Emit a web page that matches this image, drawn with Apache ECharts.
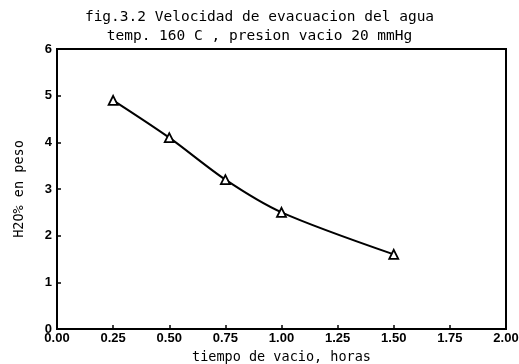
<!DOCTYPE html>
<html>
<head>
<meta charset="utf-8">
<script src="https://cdn.jsdelivr.net/npm/echarts@6/dist/echarts.min.js"></script>
<style>
  html, body { margin: 0; padding: 0; background: #fff; }
  #chart { width: 519px; height: 364px; }
</style>
</head>
<body>
<div id="chart"></div>
<script>
// Water evacuation rate under vacuum at 160 C
const titleLines = ['fig.3.2 Velocidad de evacuacion del agua', 'temp. 160 C , presion vacio 20 mmHg'];
const xName = 'tiempo de vacio, horas';
const yName = 'H2O% en peso';
const hours = [0.25, 0.50, 0.75, 1.00, 1.50];
const waterPct = [4.9, 4.1, 3.2, 2.5, 1.6];
const xTicks = { min: 0, max: 2, interval: 0.25 };
const yTicks = { min: 0, max: 6, interval: 1 };

const mono = '"DejaVu Sans Mono", monospace';
const chart = echarts.init(document.getElementById('chart'), null, { renderer: 'canvas' });

chart.setOption({
  backgroundColor: '#fff',
  animation: false,
  title: {
    text: titleLines.join('\n'),
    left: 'center',
    top: 3,
    textStyle: { fontFamily: mono, fontSize: 14.5, fontWeight: 'normal', color: '#000', lineHeight: 19 }
  },
  grid: {
    left: 57, right: 13, top: 49, bottom: 35,
    containLabel: false,
    outerBoundsMode: 'none',
    show: true, borderColor: '#000', borderWidth: 2, backgroundColor: 'transparent'
  },
  xAxis: {
    type: 'value',
    min: xTicks.min, max: xTicks.max, interval: xTicks.interval,
    name: xName, nameLocation: 'middle', nameGap: 21,
    nameTextStyle: { fontFamily: mono, fontSize: 13.5, color: '#000' },
    axisLine: { show: true, lineStyle: { color: '#000', width: 2 } },
    axisTick: { show: true, inside: true, length: 4, lineStyle: { color: '#000', width: 1.5 } },
    axisLabel: {
      margin: 3, color: '#000', fontFamily: 'Liberation Sans, sans-serif', fontSize: 13, fontWeight: 'bold',
      formatter: v => v.toFixed(2)
    },
    splitLine: { show: false }
  },
  yAxis: {
    type: 'value',
    min: yTicks.min, max: yTicks.max, interval: yTicks.interval,
    name: yName, nameLocation: 'middle', nameGap: 31, nameRotate: 90,
    nameTextStyle: { fontFamily: mono, fontSize: 13.5, color: '#000' },
    axisLine: { show: true, lineStyle: { color: '#000', width: 2 } },
    axisTick: { show: true, inside: true, length: 4, lineStyle: { color: '#000', width: 1.5 } },
    axisLabel: { margin: 5, color: '#000', fontFamily: 'Liberation Sans, sans-serif', fontSize: 13, fontWeight: 'bold' },
    splitLine: { show: false }
  },
  series: [{
    type: 'line',
    data: hours.map((h, i) => [h, waterPct[i]]),
    smooth: 0.3,
    symbol: 'triangle',
    symbolSize: 9,
    itemStyle: { color: '#fff', borderColor: '#000', borderWidth: 1.8 },
    lineStyle: { color: '#000', width: 2 }
  }]
});
</script>
</body>
</html>
